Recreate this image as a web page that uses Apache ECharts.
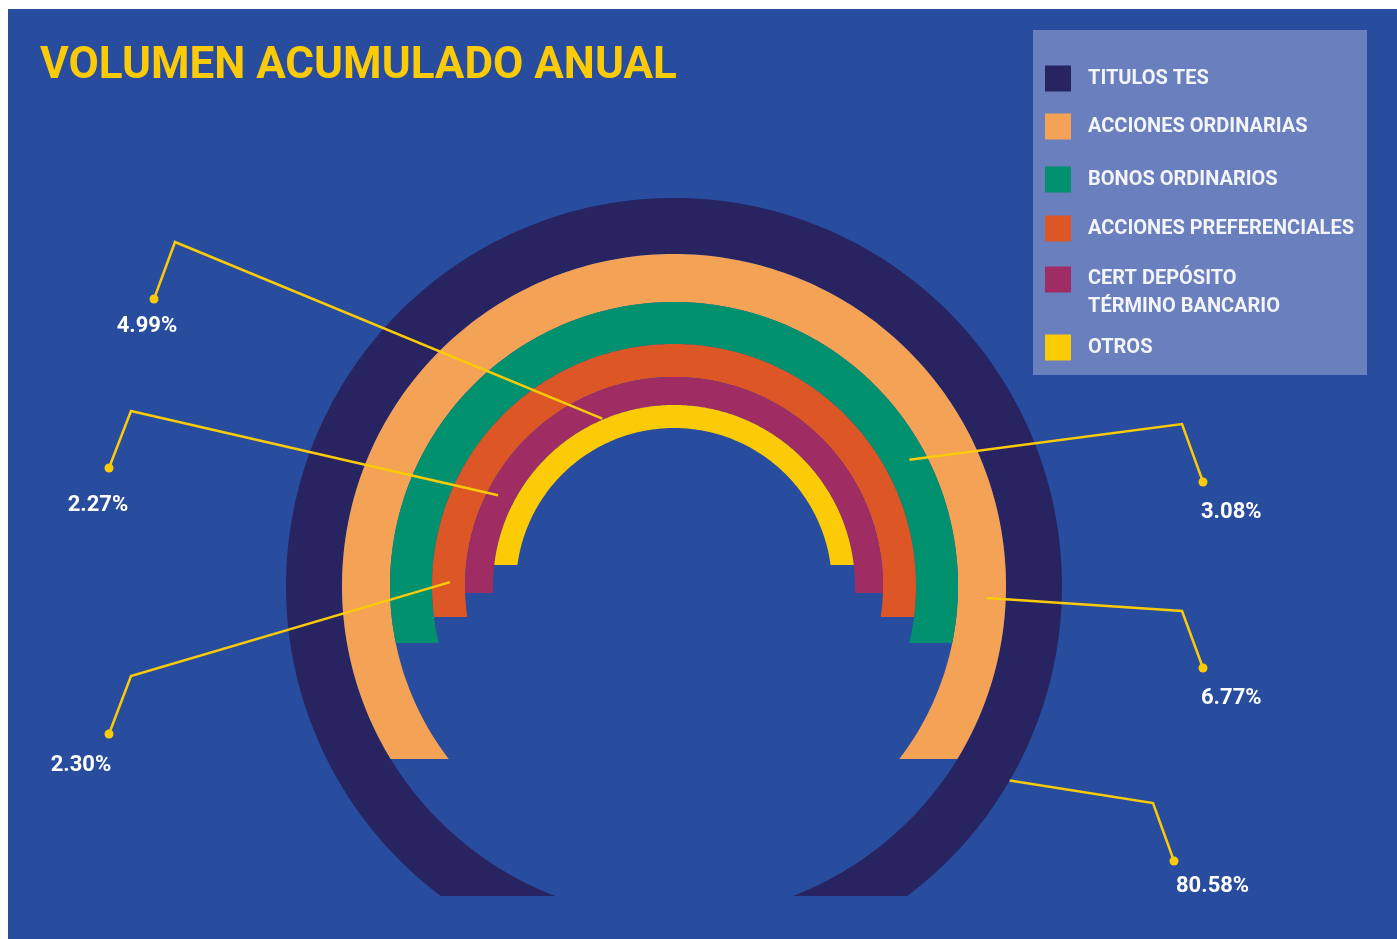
<!DOCTYPE html>
<html>
<head>
<meta charset="utf-8">
<title>Volumen acumulado anual</title>
<script src="https://cdn.jsdelivr.net/npm/echarts@6/dist/echarts.min.js"></script>
<style>
  html, body { margin: 0; padding: 0; background: #ffffff; }
  #chart { width: 1397px; height: 939px; }
</style>
</head>
<body>
<div id="chart"></div>
<script>
// Categories and their share of the accumulated annual volume (%)
const categories = [
  'TITULOS TES',
  'ACCIONES ORDINARIAS',
  'BONOS ORDINARIOS',
  'ACCIONES PREFERENCIALES',
  'CERT DEPÓSITO\nTÉRMINO BANCARIO',
  'OTROS'
];
const shares = [80.58, 6.77, 3.08, 2.30, 2.27, 4.99];
const colors = ['#282462', '#f3a256', '#02916e', '#dc5626', '#9f2c63', '#fccb07'];

// Ring geometry in radius-axis units: inner/outer radius and how far below
// the centre each ring is cut off by a horizontal line.
const ringLayout = [
  { inner: 332, outer: 388, cut: 310 },
  { inner: 284, outer: 332, cut: 173 },
  { inner: 242, outer: 284, cut: 57 },
  { inner: 209, outer: 242, cut: 31 },
  { inner: 181, outer: 209, cut: 7 },
  { inner: 158, outer: 181, cut: -21 }
];

// Leader lines: anchor on the ring (radius, angle) then elbow, dot and value text in px
const labelLayout = [
  { r: 388, angle: -30.1, elbow: [1153, 803], dot: [1174, 861], text: [1176, 886], align: 'left' },
  { r: 313, angle: -2.2, elbow: [1182, 611], dot: [1203, 668], text: [1201, 698], align: 'left' },
  { r: 267, angle: 28.2, elbow: [1182, 424], dot: [1203, 482], text: [1201, 512], align: 'left' },
  { r: 224, angle: 179, elbow: [131, 676], dot: [109, 734], text: [81, 765], align: 'center' },
  { r: 198, angle: 152.7, elbow: [131, 411], dot: [109, 468], text: [98, 505], align: 'center' },
  { r: 182, angle: 113.2, elbow: [175, 242], dot: [154, 299], text: [147, 326], align: 'center' }
];

// Legend rows (top of each row)
const legendTops = [64, 112, 165, 214, 263, 333];

const FONT = 'Roboto, "Liberation Sans", sans-serif';
const BG = '#284c9e';
const LEADER = '#fccb07';
// Square swatch sitting at the top of a taller legend row (two-line names)
const TALL_SWATCH = 'path://M0,0L26,0L26,26L0,26Z M0,52L0.01,52';

function renderRing(params, api) {
  const i = params.seriesIndex;
  const g = ringLayout[i];
  const lab = labelLayout[i];
  const deg = 180 / Math.PI;
  const pts = [];
  const arc = function (r, from, to) {
    const n = 240;
    for (let k = 0; k <= n; k++) {
      const t = from + (to - from) * k / n;
      const p = api.coord([r, t]);
      pts.push([p[0], p[1]]);
    }
  };
  const a = Math.asin(g.cut / g.outer) * deg;
  const b = Math.asin(g.cut / g.inner) * deg;
  arc(g.outer, -a, 180 + a);
  arc(g.inner, 180 + b, -b);

  const anchor = api.coord([lab.r, lab.angle]);
  const value = api.value(0);
  return {
    type: 'group',
    children: [
      { type: 'polygon', shape: { points: pts }, style: { fill: api.visual('color') } },
      {
        type: 'polyline', z2: 10,
        shape: { points: [[anchor[0], anchor[1]], lab.elbow, lab.dot] },
        style: { stroke: LEADER, lineWidth: 2.5, fill: null }
      },
      { type: 'circle', z2: 10, shape: { cx: lab.dot[0], cy: lab.dot[1], r: 4.5 }, style: { fill: LEADER } },
      {
        type: 'text', z2: 10, x: lab.text[0], y: lab.text[1],
        style: {
          text: value.toFixed(2) + '%', fill: '#ffffff',
          font: 'bold 22px ' + FONT, align: lab.align, verticalAlign: 'middle'
        }
      }
    ]
  };
}

const series = categories.map(function (name, i) {
  return {
    type: 'custom',
    name: name,
    coordinateSystem: 'polar',
    clip: false,
    itemStyle: { color: colors[i] },
    renderItem: renderRing,
    data: [[shares[i], 0]]
  };
});

const legends = categories.map(function (name, i) {
  const twoLines = name.indexOf('\n') >= 0;
  return {
    orient: 'vertical',
    left: 1045,
    top: legendTops[i],
    padding: 0,
    icon: twoLines ? TALL_SWATCH : 'rect',
    itemWidth: 26,
    itemHeight: twoLines ? 52 : 26,
    selectedMode: false,
    data: [name],
    textStyle: {
      color: '#f4f5fa',
      fontFamily: FONT,
      fontWeight: 'bold',
      fontSize: 20,
      lineHeight: twoLines ? 28 : 26,
      padding: [3, 0, 0, 12]
    }
  };
});

const chart = echarts.init(document.getElementById('chart'), null, { renderer: 'canvas' });
chart.setOption({
  backgroundColor: '#ffffff',
  animation: false,
  title: {
    text: 'VOLUMEN ACUMULADO ANUAL',
    left: 40,
    top: 45,
    padding: 0,
    textStyle: { color: '#fccb07', fontFamily: FONT, fontWeight: 'bold', fontSize: 44 }
  },
  graphic: [
    { type: 'rect', z: -1, silent: true, shape: { x: 8, y: 9, width: 1389, height: 930 }, style: { fill: BG } },
    { type: 'rect', z: 0, silent: true, shape: { x: 1033, y: 30, width: 334, height: 345 }, style: { fill: '#6a7fbd' } }
  ],
  polar: { center: [674, 586], radius: 388 },
  radiusAxis: { type: 'value', min: 0, max: 388, show: false },
  angleAxis: { type: 'value', min: 0, max: 360, startAngle: 0, clockwise: false, show: false },
  legend: legends,
  series: series
});
</script>
</body>
</html>
